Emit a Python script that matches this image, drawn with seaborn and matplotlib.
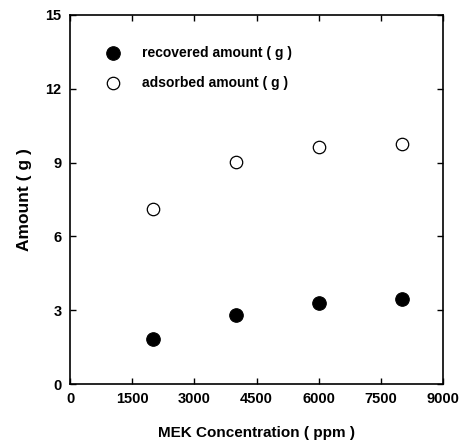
import matplotlib
matplotlib.use("Agg")
import matplotlib.pyplot as plt
import seaborn as sns
import pandas as pd

concentration = [2000, 4000, 6000, 8000]
recovered = [1.82, 2.82, 3.29, 3.46]
adsorbed = [7.11, 9.02, 9.62, 9.76]
x_ticks = [0, 1500, 3000, 4500, 6000, 7500, 9000]
y_ticks = [0, 3, 6, 9, 12, 15]

sns.set_theme(style="ticks")
plt.rcParams['font.family'] = ['Liberation Sans', 'DejaVu Sans']
plt.rcParams['font.weight'] = 'bold'
plt.rcParams['text.color'] = 'black'
plt.rcParams['axes.labelcolor'] = 'black'

fig = plt.figure(figsize=(4.67, 4.41), dpi=100)
ax = fig.add_axes([0.150, 0.129, 0.799, 0.837])

df = pd.DataFrame({"conc": concentration, "rec": recovered, "ads": adsorbed})
sns.scatterplot(data=df, x="conc", y="rec", ax=ax, s=95, color="black",
                edgecolor="black", marker="o", label="recovered amount ( g )")
sns.scatterplot(data=df, x="conc", y="ads", ax=ax, s=80, facecolor="white",
                edgecolor="black", linewidth=0.9, marker="o", label="adsorbed amount ( g )")

ax.set_xlim(0, 9000)
ax.set_ylim(0, 15)
ax.set_xticks(x_ticks)
ax.set_yticks(y_ticks)
ax.tick_params(direction="in", top=True, right=True, length=4, width=1,
               labelsize=10.5, colors="black", pad=6)
for lab in ax.get_xticklabels() + ax.get_yticklabels():
    lab.set_fontweight("bold")
for sp in ax.spines.values():
    sp.set_visible(True)
    sp.set_linewidth(1.2)
    sp.set_color("black")

ax.set_xlabel("MEK Concentration ( ppm )", fontsize=11, fontweight="bold", labelpad=14, color="black")
ax.set_ylabel("Amount ( g )", fontsize=12.5, fontweight="bold", labelpad=10, color="black")

leg = ax.legend(loc="upper left", bbox_to_anchor=(0.045, 0.95), frameon=False,
                fontsize=10, handletextpad=1.1, labelspacing=1.15, markerscale=1.0)
for t in leg.get_texts():
    t.set_fontweight("bold")
    t.set_color("black")

fig.savefig("out.png", dpi=100)
